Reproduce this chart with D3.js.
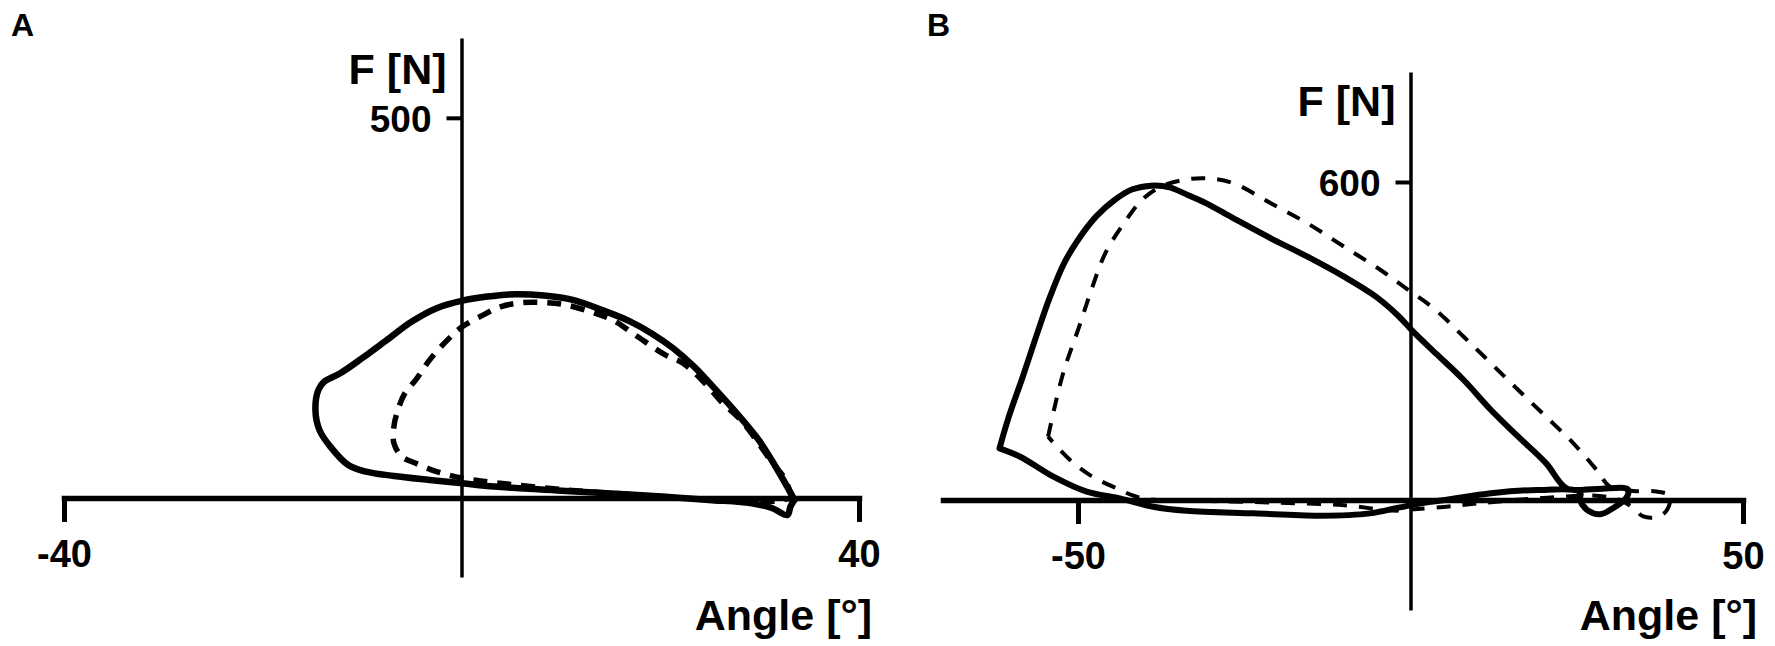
<!DOCTYPE html>
<html>
<head>
<meta charset="utf-8">
<script src="https://cdn.jsdelivr.net/npm/d3@7"></script>
<style>
  html, body { margin: 0; padding: 0; background: #fff; }
  svg { display: block; }
  text { font-family: "Liberation Sans", Arial, Helvetica, sans-serif; font-weight: bold; fill: #000; }
</style>
</head>
<body>
<svg id="chart" width="1775" height="646"></svg>
<script>
// ---------------- DATA ----------------
// Panel A
const angleA_solid = [33.5, 32.0, 29.9, 27.7, 25.6, 23.4, 21.3, 19.1, 17.0, 14.1, 11.2, 8.3, 5.5, 2.6, 0.1, -2.5, -5.0, -7.5, -10.0, -12.2, -13.8, -14.4, -14.7, -14.3, -13.2, -11.4, -9.6, -6.8, -3.2, 0.1, 3.3, 10.5, 17.7, 24.9, 29.2, 31.3, 32.8, 33.1, 33.5];
const forceA_solid = [-2.6, 32.5, 76.3, 111.4, 142.1, 172.8, 196.9, 216.7, 232.0, 247.4, 260.5, 266.2, 268.0, 264.9, 259.6, 249.6, 232.0, 207.9, 183.8, 164.0, 153.1, 142.1, 115.8, 89.5, 67.5, 43.4, 34.6, 28.9, 23.7, 19.3, 14.9, 9.2, 3.9, -2.6, -7.0, -13.6, -22.4, -11.4, -2.6];
const angleA_dashed = [33.3, 32.4, 31.3, 29.9, 28.1, 26.3, 24.5, 22.3, 20.5, 17.7, 15.2, 13.4, 10.5, 8.3, 6.2, 4.0, 2.2, 0.1, -1.4, -3.2, -4.6, -5.7, -6.4, -6.8, -6.8, -6.0, -4.6, -2.5, 0.1, 3.3, 10.5, 17.7, 24.9, 30.0, 33.3];
const forceA_dashed = [0, 28.1, 45.6, 71.9, 102.6, 124.6, 150.9, 177.2, 188.2, 212.3, 234.2, 243.0, 253.9, 257.0, 257.0, 251.8, 240.8, 225.4, 207.9, 181.6, 155.3, 137.7, 115.8, 93.9, 71.9, 54.4, 45.6, 34.6, 25.9, 20.2, 10.5, 3.9, -2.6, -6.0, 0];
const ticksA_x = [-40, 40];
const ticksA_y = [500];

// Panel B
const angleB_solid = [-61.8, -60.4, -58.3, -56.3, -54.2, -52.1, -50.0, -47.3, -44.5, -41.8, -39.0, -36.2, -33.5, -30.7, -26.6, -21.0, -15.5, -10.0, -5.2, -1.7, 0.4, 3.8, 8.0, 12.1, 16.2, 20.4, 23.5, 28.0, 32.7, 32.5, 30.5, 28.5, 26.5, 25.5, 25.5, 19.0, 12.1, 5.2, 2.0, -1.6, -6.1, -13.6, -23.6, -33.7, -38.7, -43.7, -48.7, -53.7, -58.7, -61.8];
const forceB_solid = [97.5, 157.2, 232.7, 308.2, 383.6, 446.5, 490.6, 534.6, 566, 586.2, 593.1, 590, 575.5, 559.7, 531.4, 493.7, 459.1, 421.4, 383.6, 345.8, 317.6, 276.7, 226.4, 169.8, 119.5, 69.2, 22, 21, 20, 5, -15, -27, -18, 0, 15, 18.9, 12.6, 0, -5, -13.8, -25.2, -29.6, -25.2, -20.1, -12.6, 3.1, 15.7, 44, 81.7, 97.5];
const angleB_dashed = [-54.5, -53.5, -52.1, -50.0, -48.0, -45.9, -43.1, -40.4, -37.6, -34.2, -30.7, -26.6, -21.0, -15.5, -10.0, -4.5, -0.3, 3.8, 8.0, 12.1, 16.2, 20.4, 24.5, 28.0, 30.0, 33.5, 37.0, 39.0, 38.5, 37.0, 35.0, 33.5, 31.5, 28.0, 20.0, 10.5, 5.4, 0, -2.6, -10, -20, -30, -38, -41.2, -44.2, -48.2, -51.2, -54.5];
const forceB_dashed = [119.5, 176, 245, 320.8, 396, 465.4, 522, 566, 591, 603.8, 606.9, 597.5, 559.7, 522, 478, 434, 396, 358.5, 308, 258, 207.5, 157, 107, 56.6, 25, 17, 16, 8, -20, -32, -31, -15, 0, 8, 4, -6, -12.6, -18, -20, -10, -5, -2, 0, 6.3, 22, 47, 75.5, 119.5];
const ticksB_x = [-50, 50];
const ticksB_y = [600];

// ---------------- DRAW ----------------
const svg = d3.select("#chart");

function zip(a, f) { return a.map((v, i) => [v, f[i]]); }

function panel(cfg) {
  const x = d3.scaleLinear().domain(cfg.xDomain).range(cfg.xRange);
  const y = d3.scaleLinear().domain(cfg.yDomain).range(cfg.yRange);
  const g = svg.append("g");
  const fmt = d => String(d);

  // x axis
  const xa = g.append("g")
    .attr("transform", `translate(0,${y(0)})`)
    .call(d3.axisBottom(x).tickValues(cfg.xTicks).tickSize(24).tickSizeOuter(0).tickFormat(fmt));
  xa.select(".domain").attr("stroke", "#000").attr("stroke-width", 5.5).attr("stroke-linecap", "square");
  xa.selectAll(".tick line").attr("stroke", "#000").attr("stroke-width", 5);
  xa.selectAll(".tick text").attr("y", 69).attr("dy", 0)
    .style("font-size", "38px").style("font-family", "'Liberation Sans', Arial, sans-serif").style("font-weight", "bold")
    .attr("fill", "#000").attr("text-anchor", "middle");

  // y axis
  const ya = g.append("g")
    .attr("transform", `translate(${x(0)},0)`)
    .call(d3.axisLeft(y).tickValues(cfg.yTicks).tickSize(15).tickSizeOuter(0).tickFormat(fmt));
  ya.select(".domain").attr("stroke", "#000").attr("stroke-width", 3.5);
  ya.selectAll(".tick line").attr("stroke", "#000").attr("stroke-width", 4);
  ya.selectAll(".tick text").attr("x", -30).attr("dy", "0.36em")
    .style("font-size", "37px").style("font-family", "'Liberation Sans', Arial, sans-serif").style("font-weight", "bold")
    .attr("fill", "#000").attr("text-anchor", "end");

  const line = d3.line().x(d => x(d[0])).y(d => y(d[1])).curve(d3.curveCatmullRom.alpha(0.5));

  g.append("path").datum(zip(cfg.solidA, cfg.solidF))
    .attr("d", line).attr("fill", "none").attr("stroke", "#000")
    .attr("stroke-width", cfg.solidW).attr("stroke-linejoin", "round").attr("stroke-linecap", "round");
  g.append("path").datum(zip(cfg.dashA, cfg.dashF))
    .attr("d", line).attr("fill", "none").attr("stroke", "#000")
    .attr("stroke-width", cfg.dashW).attr("stroke-dasharray", cfg.dash).attr("stroke-linejoin", "round");

  // titles
  g.append("text").attr("x", x(0) - 15).attr("y", cfg.fY).attr("text-anchor", "end")
    .style("font-size", "43px").text("F [N]");
  g.append("text").attr("x", cfg.angleX).attr("y", 630).attr("text-anchor", "end")
    .style("font-size", "43px").text("Angle [°]");
  g.append("text").attr("x", cfg.letterX).attr("y", 36)
    .style("font-size", "32px").text(cfg.letter);
}

panel({
  letter: "A", letterX: 11,
  xDomain: [-40, 40], xRange: [64, 859],
  yDomain: [-104, 605], yRange: [577, 38],
  xTicks: ticksA_x, yTicks: ticksA_y,
  solidA: angleA_solid, solidF: forceA_solid,
  dashA: angleA_dashed, dashF: forceA_dashed,
  solidW: 6.5, dashW: 5.5, dash: "14,10",
  fY: 84, angleX: 872
});

panel({
  letter: "B", letterX: 927,
  xDomain: [-70.3, 50], xRange: [943, 1743],
  yDomain: [-207.5, 807.5], yRange: [610, 72],
  xTicks: ticksB_x, yTicks: ticksB_y,
  solidA: angleB_solid, solidF: forceB_solid,
  dashA: angleB_dashed, dashF: forceB_dashed,
  solidW: 6, dashW: 4, dash: "14,12",
  fY: 116, angleX: 1757
});
</script>
</body>
</html>
